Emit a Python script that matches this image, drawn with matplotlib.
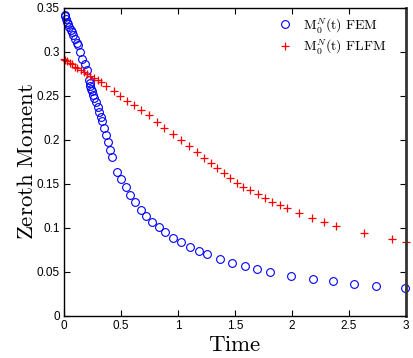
import matplotlib
matplotlib.use("Agg")
import matplotlib.pyplot as plt

plt.rcParams['mathtext.fontset'] = 'cm'
plt.rcParams['font.family'] = ['Liberation Sans', 'DejaVu Sans']

fem_t = [0.006, 0.012, 0.02, 0.03, 0.039, 0.047, 0.059, 0.07, 0.082, 0.1, 0.114, 0.126, 0.144,
         0.161, 0.182, 0.202, 0.216, 0.225, 0.231, 0.236, 0.245, 0.254, 0.266, 0.28, 0.294, 0.307,
         0.322, 0.336, 0.353, 0.367, 0.382, 0.4, 0.42, 0.465, 0.504, 0.541, 0.582, 0.620, 0.673,
         0.723, 0.775, 0.831, 0.884, 0.956, 1.030, 1.109, 1.182, 1.252, 1.366, 1.474, 1.585,
         1.696, 1.807, 1.995, 2.182, 2.363, 2.547, 2.734, 2.995]
fem_m = [0.3416, 0.340, 0.337, 0.334, 0.331, 0.328, 0.325, 0.322, 0.319, 0.314, 0.310, 0.307,
         0.300, 0.292, 0.286, 0.279, 0.268, 0.2645, 0.261, 0.258, 0.255, 0.251, 0.247, 0.243,
         0.237, 0.231, 0.226, 0.221, 0.213, 0.205, 0.197, 0.188, 0.180, 0.1635, 0.1549, 0.1458,
         0.1370, 0.1291, 0.1200, 0.1135, 0.1067, 0.1003, 0.0947, 0.0885, 0.0833, 0.0780, 0.0738,
         0.0697, 0.0643, 0.0601, 0.0560, 0.0530, 0.0499, 0.0450, 0.0419, 0.0390, 0.0363, 0.0340,
         0.0314]

flfm_t = [0.0, 0.012, 0.030, 0.050, 0.070, 0.096, 0.118, 0.146, 0.173, 0.202, 0.232, 0.263,
          0.302, 0.328, 0.372, 0.436, 0.489, 0.550, 0.614, 0.675, 0.743, 0.816, 0.881, 0.954,
          1.027, 1.100, 1.167, 1.232, 1.287, 1.342, 1.401, 1.460, 1.518, 1.574, 1.635, 1.699,
          1.763, 1.825, 1.892, 1.956, 2.061, 2.175, 2.281, 2.386, 2.629, 2.877, 3.0]
flfm_m = [0.2916, 0.2905, 0.2893, 0.2874, 0.2856, 0.2828, 0.2810, 0.2791, 0.2765, 0.2745,
          0.2723, 0.2703, 0.2677, 0.2651, 0.2609, 0.2556, 0.2499, 0.2442, 0.2390, 0.2336,
          0.2276, 0.2200, 0.2132, 0.2064, 0.1995, 0.1924, 0.1856, 0.1788, 0.1731, 0.1674,
          0.1617, 0.1560, 0.1510, 0.1465, 0.1424, 0.1382, 0.1333, 0.1291, 0.1253, 0.1219,
          0.1163, 0.1113, 0.1064, 0.1018, 0.0939, 0.0867, 0.0836]

x_ticks = [0, 0.5, 1, 1.5, 2, 2.5, 3]
x_ticklabels = ['0', '0.5', '1', '1.5', '2', '2.5', '3']
y_ticks = [0, 0.05, 0.1, 0.15, 0.2, 0.25, 0.3, 0.35]
y_ticklabels = ['0', '0.05', '0.1', '0.15', '0.2', '0.25', '0.3', '0.35']

fig = plt.figure(figsize=(4.14, 3.58), dpi=100)
ax = fig.add_axes([64/414, 1-315.6/358, 342/414, 308/358])

ax.plot(fem_t, fem_m, linestyle='none', marker='o', markersize=5.6, markerfacecolor='none',
        markeredgecolor='#0000ff', markeredgewidth=0.8, label=r'$\mathrm{M}_0^N\mathrm{(t)\ FEM}$', clip_on=False)
ax.plot(flfm_t, flfm_m, linestyle='none', marker='+', markersize=6, color='#ff0000',
        markeredgewidth=0.9, label=r'$\mathrm{M}_0^N\mathrm{(t)\ FLFM}$', clip_on=False)

ax.set_xlim(0, 3)
ax.set_ylim(0, 0.35)
ax.set_xticks(x_ticks)
ax.set_xticklabels(x_ticklabels)
ax.set_yticks(y_ticks)
ax.set_yticklabels(y_ticklabels)
ax.tick_params(direction='in', length=4, width=0.8, top=True, right=True, labelsize=8.5, pad=3)
for s in ax.spines.values():
    s.set_linewidth(1.0)
ax.spines['right'].set_linewidth(2.0)
ax.spines['right'].set_color('#333333')

ax.set_xlabel(r'$\mathrm{Time}$', fontsize=16.5, labelpad=1)
ax.set_ylabel(r'$\mathrm{Zeroth\ Moment}$', fontsize=16.5, labelpad=-1)

leg = ax.legend(loc='upper right', bbox_to_anchor=(0.968, 1.0), frameon=False, fontsize=10,
                handletextpad=0.6, borderaxespad=0.2, labelspacing=0.2, handlelength=1.5)

fig.savefig('out.png', dpi=100)
